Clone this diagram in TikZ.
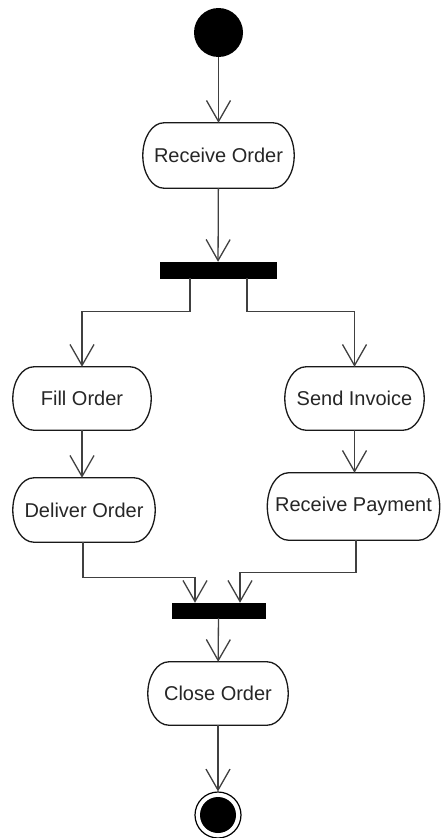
\documentclass[tikz,border=0pt]{standalone}
\usepackage{fontspec}
\setmainfont{Liberation Sans}
\usetikzlibrary{arrows.meta,calc}
\newcommand\stadiumdraw[1]{%
  \draw[outline] ([xshift=21pt]#1.north west) -- ([xshift=-21pt]#1.north east)
    .. controls ($([xshift=-21pt]#1.north east)!0.5523!(#1.north east)$) and ($(#1.east)!0.5523!(#1.north east)$) .. (#1.east)
    .. controls ($(#1.east)!0.5523!(#1.south east)$) and ($([xshift=-21pt]#1.south east)!0.5523!(#1.south east)$) .. ([xshift=-21pt]#1.south east)
    -- ([xshift=21pt]#1.south west)
    .. controls ($([xshift=21pt]#1.south west)!0.5523!(#1.south west)$) and ($(#1.west)!0.5523!(#1.south west)$) .. (#1.west)
    .. controls ($(#1.west)!0.5523!(#1.north west)$) and ($([xshift=21pt]#1.north west)!0.5523!(#1.north west)$) .. ([xshift=21pt]#1.north west) -- cycle;}
\begin{document}
\begin{tikzpicture}[x=1pt,y=-1pt,
  every node/.style={font=\fontsize{20pt}{24pt}\selectfont, text=black!85},
  action/.style={rectangle, inner sep=0pt},
  outline/.style={draw=black!90, line width=1.3pt},
  bar/.style={fill=black, draw=black, rectangle, inner sep=0pt},
  flow/.style={draw=black!75, line width=1.3pt, ->, >={Straight Barb[length=21pt,width=24pt]}}
]
\useasboundingbox (0,0) rectangle (440,838);
\node[circle, fill=black, minimum size=49pt, inner sep=0pt] (start) at (218.5,32.5) {};
\node[action, minimum width=151pt, minimum height=65pt] (recv) at (218.5,155.5) {Receive Order};
\node[bar, minimum width=116pt, minimum height=16pt] (fork) at (218,270) {};
\node[action, minimum width=138pt, minimum height=63pt] (fill) at (82,398.5) {Fill Order};
\node[action, minimum width=139pt, minimum height=63pt] (send) at (354.5,398.5) {Send Invoice};
\node[action, minimum width=142pt, minimum height=64pt] (deliver) at (84,510) {Deliver Order};
\node[action, minimum width=172pt, minimum height=67pt] (pay) at (353.5,506.5) {Receive Payment};
\node[bar, minimum width=93pt, minimum height=15pt] (join) at (218.5,610.5) {};
\node[action, minimum width=140pt, minimum height=63pt] (close) at (218,693.5) {Close Order};
\node[circle, draw=black, line width=1.2pt, minimum size=46pt, inner sep=0pt] (end) at (218,815) {};
\node[circle, fill=black, minimum size=36pt, inner sep=0pt] (endin) at (end.center) {};

\stadiumdraw{recv}
\stadiumdraw{fill}
\stadiumdraw{send}
\stadiumdraw{deliver}
\stadiumdraw{pay}
\stadiumdraw{close}

\draw[flow] (start) -- (recv);
\draw[flow] (recv) -- (fork);
\draw[flow] ([xshift=-28pt]fork.south) -- ++(0,33) -| (fill.north);
\draw[flow] ([xshift=29pt]fork.south) -- ++(0,33) -| (send.north);
\draw[flow] (fill) -- (fill |- deliver.north);
\draw[flow] (send) -- (send |- pay.north);
\draw[flow] ([xshift=-1pt]deliver.south) -- ++(0,35) -| ([xshift=-23.5pt]join.north);
\draw[flow] ([xshift=2.5pt]pay.south) -- ++(0,32) -| ([xshift=21.5pt]join.north);
\draw[flow] (join) -- (close);
\draw[flow] (close) -- (end);
\end{tikzpicture}
\end{document}
